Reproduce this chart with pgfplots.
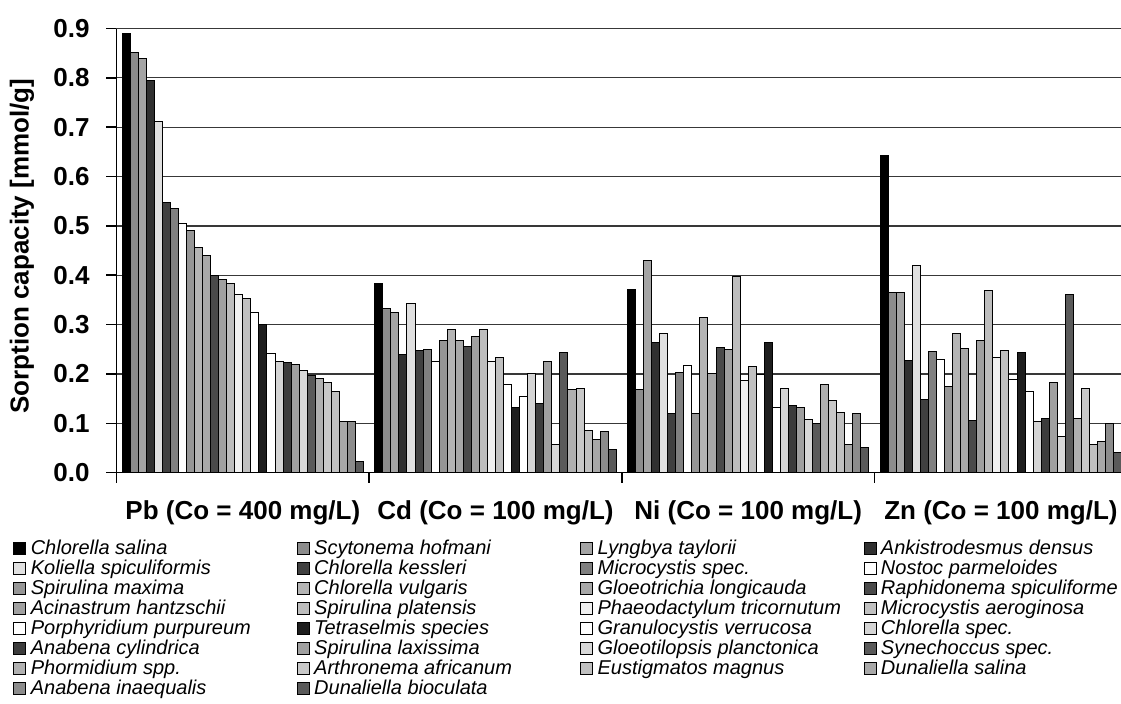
\documentclass[border=0pt]{standalone}
\usepackage{pgfplots}
\pgfplotsset{compat=1.18}
\usepackage{fontspec}
\setmainfont{Liberation Sans}
\definecolor{c1}{HTML}{000000}
\definecolor{c2}{HTML}{8C8C8C}
\definecolor{c3}{HTML}{A4A4A4}
\definecolor{c4}{HTML}{303030}
\definecolor{c5}{HTML}{E0E0E0}
\definecolor{c6}{HTML}{404040}
\definecolor{c7}{HTML}{808080}
\definecolor{c8}{HTML}{FFFFFF}
\definecolor{c9}{HTML}{969696}
\definecolor{c10}{HTML}{B4B4B4}
\definecolor{c11}{HTML}{A8A8A8}
\definecolor{c12}{HTML}{4A4A4A}
\definecolor{c13}{HTML}{A0A0A0}
\definecolor{c14}{HTML}{BDBDBD}
\definecolor{c15}{HTML}{F0F0F0}
\definecolor{c16}{HTML}{C0C0C0}
\definecolor{c17}{HTML}{FFFFFF}
\definecolor{c18}{HTML}{1E1E1E}
\definecolor{c19}{HTML}{FFFFFF}
\definecolor{c20}{HTML}{D4D4D4}
\definecolor{c21}{HTML}{3C3C3C}
\definecolor{c22}{HTML}{A0A0A0}
\definecolor{c23}{HTML}{D8D8D8}
\definecolor{c24}{HTML}{5A5A5A}
\definecolor{c25}{HTML}{B0B0B0}
\definecolor{c26}{HTML}{C8C8C8}
\definecolor{c27}{HTML}{C0C0C0}
\definecolor{c28}{HTML}{A8A8A8}
\definecolor{c29}{HTML}{8C8C8C}
\definecolor{c30}{HTML}{5A5A5A}
\newcommand{\la}[1]{\addlegendentry{\makebox[133pt][l]{#1}}}
\newcommand{\lb}[1]{\addlegendentry{\makebox[120pt][l]{#1}}}
\begin{document}
\begin{tikzpicture}
\path[use as bounding box] (-58.25pt,-115.65pt) rectangle (502.25pt,236.35pt);
\begin{axis}[
  at={(0pt,0pt)}, anchor=south west,
  scale only axis,
  width=505.4pt, height=222.1pt,
  xmin=-0.5, xmax=3.5, ymin=0, ymax=0.9,
  enlargelimits=false,
  ybar=0pt, bar width=4.025pt,
  axis x line*=bottom, axis y line*=left,
  axis line style={black, line width=0.8pt},
  tick align=outside,
  major tick length=5pt,
  tick style={black, line width=0.8pt},
  xtick={-0.5,0.5,1.5,2.5,3.5},
  x tick label as interval,
  xticklabels={{Pb (Co = 400 mg/L)},{Cd (Co = 100 mg/L)},{Ni (Co = 100 mg/L)},{Zn (Co = 100 mg/L)}},
  xticklabel style={font=\bfseries\fontsize{13}{13}\selectfont, anchor=base, yshift=-18.5pt},
  ytick={0,0.1,0.2,0.3,0.4,0.5,0.6,0.7,0.8,0.9},
  yticklabel style={font=\bfseries\fontsize{13}{13}\selectfont, anchor=east, inner sep=0pt, xshift=-8.25pt,
    /pgf/number format/.cd, fixed, fixed zerofill, precision=1, assume math mode=true},
  ymajorgrids,
  grid style={black!78, line width=0.6pt},
  ylabel={Sorption capacity [mmol/g]},
  ylabel style={at={(axis description cs:-0.0935,0.51)}, anchor=center, font=\bfseries\fontsize{13}{13}\selectfont},
  legend columns=4,
  legend cell align=left,
  legend style={at={(0,0)}, anchor=north west, xshift=-51.75pt, yshift=-32.65pt,
    draw=none, fill=none, inner sep=0pt, column sep=0pt, row sep=0pt,
    nodes={inner sep=0pt, text height=8.0pt, text depth=2.0pt, font=\fontsize{10}{10}\selectfont\itshape}},
  every axis plot post/.append style={draw=black, line width=0.5pt,
    legend image code/.code={\draw[#1, line width=0.4pt] (0pt,-3pt) rectangle (6pt,3pt); \path[draw=none, fill=none] (0pt,0pt) rectangle (8.5pt,0.1pt);}},
]
\addplot[fill=c1]  coordinates {(0,0.890) (1,0.384) (2,0.372) (3,0.643)}; \la{Chlorella salina}
\addplot[fill=c2]  coordinates {(0,0.851) (1,0.333) (2,0.169) (3,0.365)}; \la{Scytonema hofmani}
\addplot[fill=c3]  coordinates {(0,0.840) (1,0.325) (2,0.430) (3,0.365)}; \la{Lyngbya taylorii}
\addplot[fill=c4]  coordinates {(0,0.794) (1,0.240) (2,0.264) (3,0.227)}; \lb{Ankistrodesmus densus}
\addplot[fill=c5]  coordinates {(0,0.712) (1,0.343) (2,0.282) (3,0.419)}; \la{Koliella spiculiformis}
\addplot[fill=c6]  coordinates {(0,0.548) (1,0.247) (2,0.119) (3,0.148)}; \la{Chlorella kessleri}
\addplot[fill=c7]  coordinates {(0,0.535) (1,0.250) (2,0.202) (3,0.245)}; \la{Microcystis spec.}
\addplot[fill=c8]  coordinates {(0,0.505) (1,0.226) (2,0.217) (3,0.229)}; \lb{Nostoc parmeloides}
\addplot[fill=c9]  coordinates {(0,0.491) (1,0.268) (2,0.119) (3,0.175)}; \la{Spirulina maxima}
\addplot[fill=c10] coordinates {(0,0.457) (1,0.291) (2,0.314) (3,0.283)}; \la{Chlorella vulgaris}
\addplot[fill=c11] coordinates {(0,0.440) (1,0.268) (2,0.201) (3,0.251)}; \la{Gloeotrichia longicauda}
\addplot[fill=c12] coordinates {(0,0.400) (1,0.255) (2,0.254) (3,0.105)}; \lb{Raphidonema spiculiforme}
\addplot[fill=c13] coordinates {(0,0.391) (1,0.275) (2,0.250) (3,0.268)}; \la{Acinastrum hantzschii}
\addplot[fill=c14] coordinates {(0,0.383) (1,0.290) (2,0.397) (3,0.370)}; \la{Spirulina platensis}
\addplot[fill=c15] coordinates {(0,0.361) (1,0.226) (2,0.187) (3,0.233)}; \la{Phaeodactylum tricornutum}
\addplot[fill=c16] coordinates {(0,0.353) (1,0.233) (2,0.216) (3,0.248)}; \lb{Microcystis aeroginosa}
\addplot[fill=c17] coordinates {(0,0.325) (1,0.179) (2,0.199) (3,0.188)}; \la{Porphyridium purpureum}
\addplot[fill=c18] coordinates {(0,0.301) (1,0.132) (2,0.264) (3,0.244)}; \la{Tetraselmis species}
\addplot[fill=c19] coordinates {(0,0.241) (1,0.154) (2,0.132) (3,0.164)}; \la{Granulocystis verrucosa}
\addplot[fill=c20] coordinates {(0,0.226) (1,0.200) (2,0.170) (3,0.103)}; \lb{Chlorella spec.}
\addplot[fill=c21] coordinates {(0,0.223) (1,0.140) (2,0.137) (3,0.110)}; \la{Anabena cylindrica}
\addplot[fill=c22] coordinates {(0,0.219) (1,0.225) (2,0.132) (3,0.183)}; \la{Spirulina laxissima}
\addplot[fill=c23] coordinates {(0,0.208) (1,0.057) (2,0.108) (3,0.073)}; \la{Gloeotilopsis planctonica}
\addplot[fill=c24] coordinates {(0,0.196) (1,0.244) (2,0.100) (3,0.361)}; \lb{Synechoccus spec.}
\addplot[fill=c25] coordinates {(0,0.190) (1,0.169) (2,0.179) (3,0.110)}; \la{Phormidium spp.}
\addplot[fill=c26] coordinates {(0,0.183) (1,0.171) (2,0.147) (3,0.171)}; \la{Arthronema africanum}
\addplot[fill=c27] coordinates {(0,0.164) (1,0.086) (2,0.122) (3,0.058)}; \la{Eustigmatos magnus}
\addplot[fill=c28] coordinates {(0,0.103) (1,0.067) (2,0.057) (3,0.064)}; \lb{Dunaliella salina}
\addplot[fill=c29] coordinates {(0,0.103) (1,0.083) (2,0.119) (3,0.100)}; \la{Anabena inaequalis}
\addplot[fill=c30] coordinates {(0,0.022) (1,0.047) (2,0.051) (3,0.040)}; \la{Dunaliella bioculata}
\end{axis}
\end{tikzpicture}
\end{document}
